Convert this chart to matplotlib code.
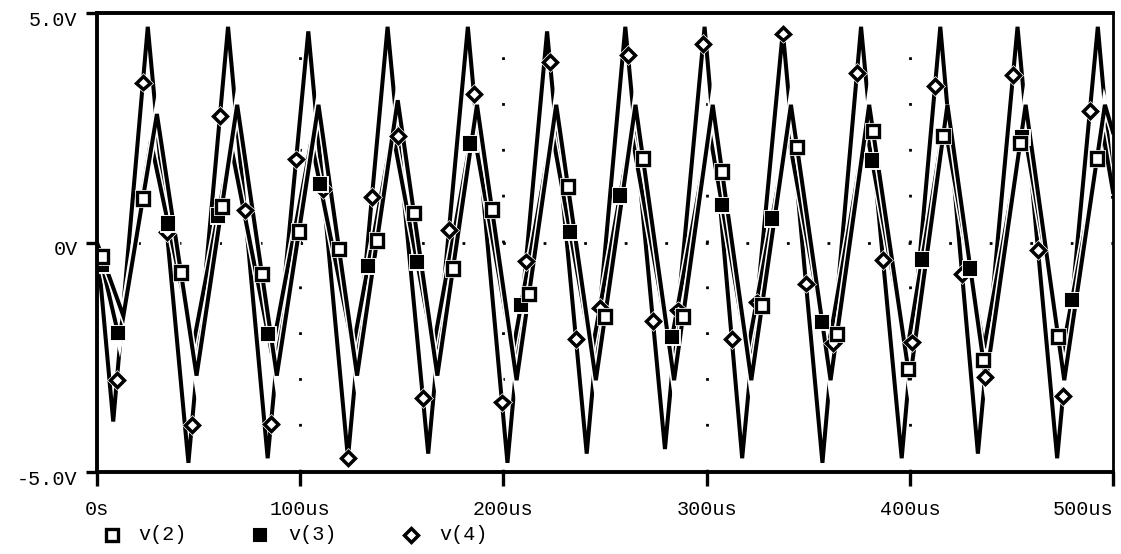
import matplotlib
matplotlib.use("Agg")
import matplotlib.pyplot as plt
import matplotlib.patheffects as pe
from matplotlib.lines import Line2D
from matplotlib.transforms import ScaledTranslation
import numpy as np

# ---- transient node voltages: turning points of each waveform (time in us, volts) ----
v4_t = [0, 8, 25, 45, 64.5, 84, 104, 123.5, 143, 163, 182.5, 202, 221.5, 241, 260,
        279.5, 299, 317.5, 337.5, 357, 376, 396, 415, 433.5, 453, 472.5, 492.5, 500]
v4_v = [0, -3.9, 4.7, -4.8, 4.7, -4.7, 4.6, -4.7, 4.7, -4.6, 4.7, -4.8, 4.6, -4.6, 4.7,
        -4.5, 4.7, -4.7, 4.6, -4.8, 4.7, -4.7, 4.7, -4.6, 4.7, -4.7, 4.7, 1.0]

v3_t = [0, 11, 26.5, 47.5, 66, 86, 105.5, 126, 145.5, 165.5, 185, 204.5, 224, 243.5,
        263, 282, 301.5, 320, 340, 359.5, 378.5, 398.5, 417, 436.5, 456, 475, 495, 500]
v3_v = [0, -2.1, 2.2, -2.2, 2.1, -2.4, 2.2, -2.3, 2.4, -2.3, 2.5, -2.4, 2.4, -2.4,
        2.4, -2.3, 2.4, -2.4, 2.4, -2.4, 2.5, -2.4, 2.6, -2.3, 2.5, -2.4, 2.4, 1.1]

v2_t = [0, 13, 29.5, 49, 69, 88.5, 109, 128, 148, 167.5, 187, 206.5, 226, 245.5,
        265, 284, 303, 322, 341.5, 361, 380, 400, 418.5, 437.5, 457, 476, 496, 500]
v2_v = [0, -1.6, 2.8, -2.9, 3.0, -2.9, 3.0, -2.9, 3.1, -2.9, 3.0, -3.0, 3.0, -3.0,
        3.0, -3.0, 3.0, -3.0, 3.0, -3.0, 3.0, -3.0, 3.0, -3.0, 3.0, -3.0, 3.0, 2.4]

# ---- trace symbol positions along time (us) ----
v2_mark_t = [2.5, 22.6, 41.3, 61.5, 81.2, 99.4, 119.1, 137.8, 156, 175.2, 194.4, 212.6,
             231.8, 250, 268.7, 288.4, 307.6, 327.3, 344.5, 364.2, 381.9, 399.2, 416.4,
             436.1, 454.3, 473, 492.1]
v3_mark_t = [2.5, 10.3, 35, 59.5, 84.2, 109.7, 133.4, 157.5, 183.6, 208.7, 232.8, 257.4,
             283, 307.6, 332.2, 356.8, 381.4, 406, 429.6, 455.2, 479.8]
v4_mark_t = [9.8, 22.6, 34.4, 46.7, 60.5, 72.8, 85.6, 98, 111.2, 123.5, 135.3, 148.1,
             160.4, 173.2, 185.5, 199.3, 211.1, 222.9, 235.7, 247.5, 261.3, 273.6, 285.9,
             298.2, 312.4, 324.8, 337.6, 348.9, 362.2, 374, 386.8, 401.1, 412.4, 425.7,
             437, 450.8, 463.1, 475.4, 488.6]

x_ticks = [0, 100, 200, 300, 400, 500]
x_labels = ["0s", "100us", "200us", "300us", "400us", "500us"]
y_ticks = [-5, 0, 5]
y_labels = ["-5.0V", "0V", "5.0V"]
legend_names = ["v(2)", "v(3)", "v(4)"]

MONO = "Liberation Mono"
FS = 14.5

fig = plt.figure(figsize=(11.21, 5.54), dpi=100)
ax = fig.add_axes([0.0865, 0.148, 0.9064, 0.8285])
ax.set_xlim(0, 500)
ax.set_ylim(-5, 5)

# dotted grid: vertical lines at the inner time ticks, horizontal line at 0 V
for xv in x_ticks[1:-1]:
    ax.axvline(xv, color="black", lw=2.0, linestyle=(0, (1, 15.5)), zorder=1)
ax.axhline(0, color="black", lw=2.0, linestyle=(0, (1, 13.6)), zorder=1)

halo = [pe.Stroke(linewidth=5.2, foreground="white"), pe.Normal()]
LW = 2.9

traces = [
    (v4_t, v4_v, v4_mark_t, dict(marker="D", ms=7, mfc="white", mec="black", mew=2.5)),
    (v3_t, v3_v, v3_mark_t, dict(marker="s", ms=9, mfc="black", mec="black", mew=1.5)),
    (v2_t, v2_v, v2_mark_t, dict(marker="s", ms=9, mfc="white", mec="black", mew=2.4)),
]

z = 2
for t, v, mt, mstyle in traces:
    ax.plot(t, v, color="black", lw=LW, solid_joinstyle="miter",
            path_effects=halo, zorder=z)
    z += 1
for t, v, mt, mstyle in traces:
    my = np.interp(mt, t, v)
    ax.plot(mt, my, linestyle="none", zorder=z,
            path_effects=[pe.Stroke(linewidth=3.5, foreground="white"), pe.Normal()],
            **mstyle)
    z += 1

# frame and ticks
for side in ["top", "bottom", "left"]:
    ax.spines[side].set_linewidth(2.8)
ax.spines["right"].set_linewidth(2.0)
for s in ax.spines.values():
    s.set_zorder(10)

ax.set_xticks(x_ticks)
ax.set_xticklabels(x_labels, fontfamily=MONO, fontsize=FS)
ax.set_yticks(y_ticks)
ax.set_yticklabels(y_labels, fontfamily=MONO, fontsize=FS)
ax.tick_params(axis="x", direction="out", length=10, width=2.4, pad=10)
ax.tick_params(axis="y", direction="out", length=8, width=2.4, pad=6)
ax.get_xticklabels()[-1].set_horizontalalignment("right")
for lab in ax.get_yticklabels():
    lab.set_transform(lab.get_transform() + ScaledTranslation(0, -0.05, fig.dpi_scale_trans))

# legend row under the axis
styles = {name: tr[3] for name, tr in zip(["v(4)", "v(3)", "v(2)"], traces)}
marker_x = [0.0999, 0.232, 0.3666]
text_x = [0.1231, 0.2569, 0.3916]
leg_y = 0.0343
for name, mx, tx in zip(legend_names, marker_x, text_x):
    fig.add_artist(Line2D([mx], [leg_y], transform=fig.transFigure, linestyle="none",
                          **styles[name]))
    fig.text(tx, leg_y, name, fontfamily=MONO, fontsize=FS, va="center", ha="left")

fig.savefig("out.png", dpi=100)
